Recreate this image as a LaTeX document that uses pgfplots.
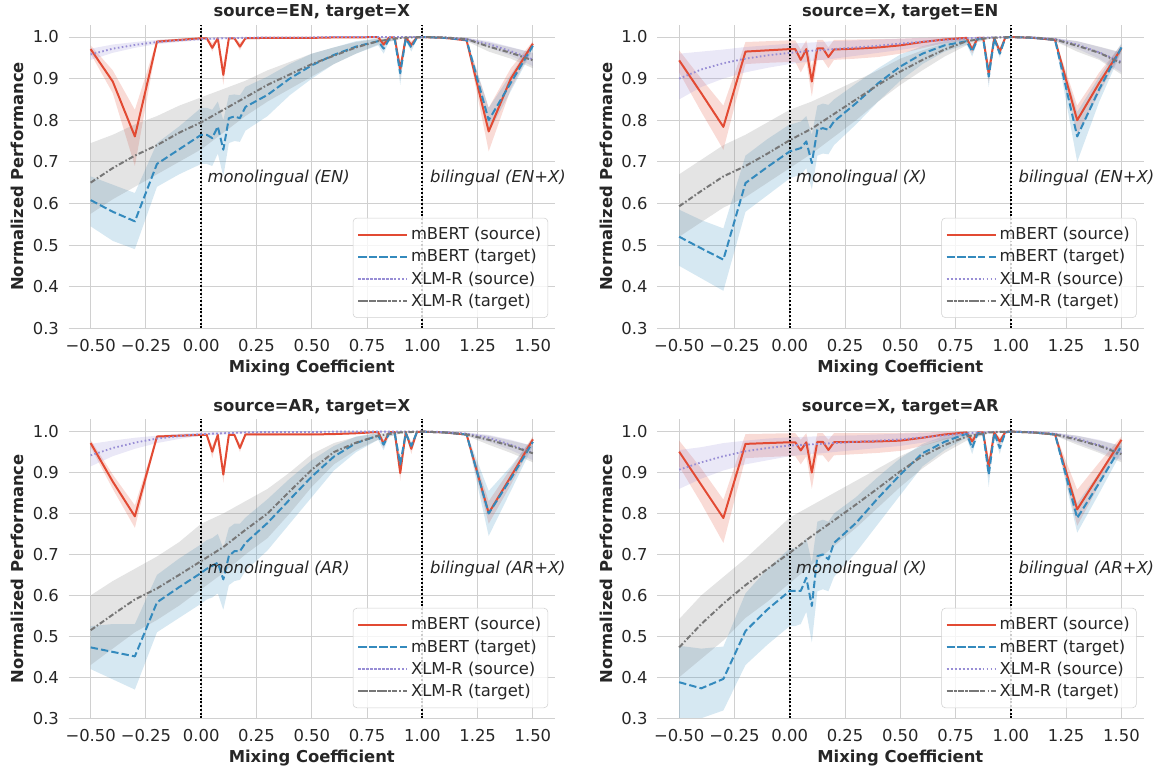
\documentclass[border=0pt]{standalone}
\usepackage{pgfplots}
\pgfplotsset{compat=1.18}
\usepackage{pgfplotstable}
\usepgfplotslibrary{fillbetween}
\usepackage{fontspec}
\setmainfont{DejaVu Sans}
\definecolor{cR}{HTML}{E24A33}
\definecolor{cB}{HTML}{348ABD}
\definecolor{cP}{HTML}{988ED5}
\definecolor{cG}{HTML}{777777}
\definecolor{gridc}{HTML}{D0D0D0}
\definecolor{textc}{HTML}{262626}
\newcommand\fs{\fontsize{12.3}{14.5}\selectfont}

% ---------------- TL: source=EN, target=X
\pgfplotstableread{
x y lo hi
-0.5 0.971 0.960 0.980
-0.4 0.893 0.865 0.920
-0.3 0.761 0.690 0.825
-0.2 0.989 0.985 0.993
-0.1 0.993 0.990 0.996
0 0.997 0.995 0.999
0.025 0.997 0.995 0.999
0.05 0.974 0.965 0.985
0.075 0.997 0.995 0.999
0.1 0.909 0.885 0.935
0.125 0.997 0.995 0.999
0.15 0.997 0.995 0.999
0.175 0.977 0.968 0.986
0.2 0.997 0.995 0.999
0.3 0.998 0.996 0.999
0.4 0.998 0.996 0.999
0.5 0.998 0.997 0.999
0.6 0.999 0.998 1.0
0.7 0.999 0.998 1.0
0.8 1.0 0.999 1.0
0.825 0.982 0.975 0.99
0.85 0.999 0.998 1.0
0.875 0.999 0.998 1.0
0.9 0.922 0.90 0.94
0.925 0.999 0.998 1.0
0.95 0.981 0.973 0.99
0.975 0.999 0.998 1.0
1.0 1.0 1.0 1.0
1.1 0.998 0.997 0.999
1.2 0.992 0.99 0.995
1.3 0.773 0.725 0.83
1.4 0.90 0.875 0.925
1.5 0.984 0.975 0.99
}\tlR
\pgfplotstableread{
x y lo hi
-0.5 0.608 0.545 0.665
-0.4 0.58 0.51 0.645
-0.3 0.557 0.49 0.625
-0.2 0.695 0.64 0.745
-0.1 0.73 0.67 0.785
0 0.765 0.695 0.83
0.025 0.765 0.695 0.83
0.05 0.757 0.69 0.825
0.075 0.785 0.72 0.845
0.1 0.729 0.665 0.80
0.125 0.805 0.745 0.86
0.15 0.809 0.75 0.862
0.175 0.805 0.748 0.86
0.2 0.832 0.775 0.88
0.3 0.861 0.81 0.905
0.4 0.90 0.86 0.935
0.5 0.932 0.90 0.96
0.6 0.957 0.935 0.975
0.7 0.977 0.96 0.99
0.8 0.99 0.98 0.997
0.825 0.972 0.96 0.983
0.85 0.995 0.99 0.999
0.875 0.995 0.99 0.999
0.9 0.913 0.885 0.935
0.925 0.996 0.99 0.999
0.95 0.975 0.965 0.985
0.975 0.998 0.995 1.0
1.0 1.0 1.0 1.0
1.1 0.998 0.997 0.999
1.2 0.993 0.99 0.996
1.3 0.80 0.77 0.83
1.4 0.89 0.87 0.91
1.5 0.979 0.97 0.988
}\tlB
\pgfplotstableread{
x y lo hi
-0.5 0.958 0.945 0.972
-0.4 0.972 0.962 0.982
-0.3 0.981 0.974 0.988
-0.2 0.988 0.983 0.993
-0.1 0.992 0.988 0.996
0 0.995 0.992 0.998
0.1 0.997 0.995 0.999
0.2 0.998 0.996 0.999
0.3 0.999 0.997 1.0
0.4 0.999 0.998 1.0
0.5 0.999 0.998 1.0
0.6 1.0 0.999 1.0
0.7 1.0 0.999 1.0
0.8 1.0 0.999 1.0
0.9 1.0 0.999 1.0
1.0 1.0 1.0 1.0
1.1 0.999 0.998 1.0
1.2 0.995 0.99 0.998
1.3 0.983 0.975 0.99
1.4 0.966 0.955 0.976
1.5 0.946 0.93 0.962
}\tlP
\pgfplotstableread{
x y lo hi
-0.5 0.65 0.575 0.745
-0.4 0.685 0.61 0.765
-0.3 0.715 0.64 0.79
-0.2 0.74 0.67 0.81
-0.1 0.77 0.70 0.835
0 0.795 0.73 0.855
0.1 0.825 0.77 0.875
0.2 0.855 0.81 0.895
0.3 0.885 0.845 0.92
0.4 0.91 0.875 0.94
0.5 0.935 0.905 0.96
0.6 0.955 0.935 0.975
0.7 0.975 0.96 0.988
0.8 0.99 0.982 0.996
0.9 0.998 0.995 1.0
1.0 1.0 1.0 1.0
1.1 0.999 0.998 1.0
1.2 0.995 0.99 0.998
1.3 0.977 0.965 0.987
1.4 0.962 0.948 0.975
1.5 0.944 0.925 0.962
}\tlG

% ---------------- TR: source=X, target=EN
\pgfplotstableread{
x y lo hi
-0.5 0.944 0.915 0.968
-0.4 0.865 0.82 0.90
-0.3 0.784 0.729 0.835
-0.2 0.965 0.935 0.988
-0.1 0.968 0.938 0.99
0 0.971 0.94 0.992
0.025 0.971 0.94 0.992
0.05 0.945 0.915 0.97
0.075 0.971 0.94 0.992
0.1 0.893 0.857 0.93
0.125 0.973 0.945 0.993
0.15 0.973 0.945 0.993
0.175 0.952 0.925 0.975
0.2 0.97 0.945 0.993
0.3 0.972 0.948 0.994
0.4 0.975 0.952 0.995
0.5 0.98 0.96 0.996
0.6 0.988 0.973 0.998
0.7 0.994 0.985 0.999
0.8 0.998 0.994 1.0
0.825 0.97 0.96 0.98
0.85 0.998 0.995 1.0
0.875 0.998 0.995 1.0
0.9 0.912 0.89 0.935
0.925 0.998 0.995 1.0
0.95 0.965 0.955 0.975
0.975 0.999 0.997 1.0
1.0 1.0 1.0 1.0
1.1 0.998 0.997 0.999
1.2 0.993 0.99 0.996
1.3 0.80 0.765 0.835
1.4 0.89 0.865 0.915
1.5 0.973 0.965 0.982
}\trR
\pgfplotstableread{
x y lo hi
-0.5 0.52 0.45 0.585
-0.4 0.492 0.42 0.56
-0.3 0.465 0.39 0.54
-0.2 0.649 0.58 0.715
-0.1 0.688 0.62 0.755
0 0.725 0.66 0.79
0.025 0.729 0.665 0.793
0.05 0.733 0.668 0.797
0.075 0.749 0.685 0.81
0.1 0.697 0.633 0.765
0.125 0.777 0.715 0.835
0.15 0.781 0.72 0.84
0.175 0.777 0.718 0.837
0.2 0.797 0.74 0.85
0.3 0.841 0.79 0.888
0.4 0.889 0.845 0.925
0.5 0.929 0.895 0.958
0.6 0.96 0.935 0.978
0.7 0.98 0.965 0.99
0.8 0.99 0.982 0.997
0.825 0.965 0.953 0.977
0.85 0.996 0.99 0.999
0.875 0.996 0.99 0.999
0.9 0.905 0.88 0.93
0.925 0.996 0.99 0.999
0.95 0.96 0.95 0.972
0.975 0.998 0.995 1.0
1.0 1.0 1.0 1.0
1.1 0.998 0.997 0.999
1.2 0.993 0.99 0.996
1.3 0.761 0.70 0.82
1.4 0.875 0.845 0.905
1.5 0.975 0.965 0.985
}\trB
\pgfplotstableread{
x y lo hi
-0.5 0.90 0.85 0.96
-0.4 0.922 0.88 0.965
-0.3 0.937 0.90 0.97
-0.2 0.948 0.915 0.976
-0.1 0.956 0.926 0.98
0 0.962 0.935 0.984
0.1 0.967 0.942 0.987
0.2 0.971 0.948 0.99
0.3 0.975 0.955 0.992
0.4 0.979 0.962 0.994
0.5 0.984 0.969 0.996
0.6 0.989 0.977 0.998
0.7 0.993 0.985 0.999
0.8 0.997 0.992 1.0
0.9 0.999 0.997 1.0
1.0 1.0 1.0 1.0
1.1 0.999 0.998 1.0
1.2 0.995 0.99 0.998
1.3 0.982 0.972 0.99
1.4 0.963 0.948 0.976
1.5 0.94 0.915 0.962
}\trP
\pgfplotstableread{
x y lo hi
-0.5 0.593 0.52 0.67
-0.4 0.63 0.555 0.705
-0.3 0.665 0.59 0.74
-0.2 0.69 0.615 0.765
-0.1 0.72 0.65 0.795
0 0.752 0.685 0.825
0.1 0.78 0.72 0.845
0.2 0.815 0.76 0.87
0.3 0.85 0.80 0.895
0.4 0.885 0.845 0.92
0.5 0.917 0.885 0.948
0.6 0.945 0.92 0.968
0.7 0.97 0.953 0.985
0.8 0.99 0.98 0.996
0.9 0.998 0.995 1.0
1.0 1.0 1.0 1.0
1.1 0.999 0.998 1.0
1.2 0.994 0.99 0.997
1.3 0.979 0.965 0.99
1.4 0.962 0.945 0.977
1.5 0.937 0.91 0.963
}\trG

% ---------------- BL: source=AR, target=X
\pgfplotstableread{
x y lo hi
-0.5 0.972 0.962 0.98
-0.4 0.878 0.86 0.895
-0.3 0.793 0.765 0.82
-0.2 0.988 0.985 0.991
-0.1 0.99 0.987 0.993
0 0.992 0.99 0.995
0.025 0.992 0.99 0.995
0.05 0.951 0.935 0.965
0.075 0.992 0.99 0.995
0.1 0.895 0.875 0.915
0.125 0.992 0.99 0.995
0.15 0.992 0.99 0.995
0.175 0.96 0.95 0.97
0.2 0.993 0.99 0.995
0.3 0.993 0.99 0.995
0.4 0.993 0.991 0.995
0.5 0.993 0.991 0.995
0.6 0.994 0.992 0.996
0.7 0.996 0.994 0.998
0.8 0.999 0.998 1.0
0.825 0.97 0.96 0.98
0.85 0.999 0.998 1.0
0.875 0.999 0.998 1.0
0.9 0.899 0.88 0.92
0.925 0.999 0.998 1.0
0.95 0.958 0.945 0.97
0.975 0.999 0.998 1.0
1.0 1.0 1.0 1.0
1.1 0.998 0.997 0.999
1.2 0.993 0.99 0.996
1.3 0.801 0.775 0.83
1.4 0.89 0.87 0.91
1.5 0.981 0.972 0.988
}\blR
\pgfplotstableread{
x y lo hi
-0.5 0.473 0.42 0.525
-0.4 0.462 0.395 0.53
-0.3 0.451 0.37 0.53
-0.2 0.583 0.51 0.65
-0.1 0.62 0.545 0.69
0 0.655 0.58 0.725
0.025 0.665 0.59 0.735
0.05 0.672 0.595 0.74
0.075 0.68 0.605 0.75
0.1 0.639 0.565 0.715
0.125 0.696 0.625 0.765
0.15 0.708 0.635 0.775
0.175 0.708 0.638 0.775
0.2 0.728 0.66 0.79
0.3 0.777 0.71 0.835
0.4 0.834 0.775 0.885
0.5 0.89 0.84 0.93
0.6 0.939 0.905 0.965
0.7 0.972 0.95 0.988
0.8 0.99 0.98 0.997
0.825 0.968 0.955 0.98
0.85 0.996 0.99 0.999
0.875 0.996 0.99 0.999
0.9 0.92 0.895 0.94
0.925 0.996 0.99 0.999
0.95 0.965 0.955 0.975
0.975 0.998 0.995 1.0
1.0 1.0 1.0 1.0
1.1 0.998 0.997 0.999
1.2 0.993 0.99 0.996
1.3 0.80 0.745 0.855
1.4 0.885 0.855 0.915
1.5 0.975 0.965 0.985
}\blB
\pgfplotstableread{
x y lo hi
-0.5 0.942 0.915 0.97
-0.4 0.96 0.94 0.978
-0.3 0.973 0.958 0.985
-0.2 0.983 0.972 0.99
-0.1 0.989 0.982 0.995
0 0.994 0.99 0.998
0.1 0.996 0.993 0.999
0.2 0.998 0.996 1.0
0.3 0.999 0.997 1.0
0.4 0.999 0.998 1.0
0.5 0.999 0.998 1.0
0.6 1.0 0.999 1.0
0.7 1.0 0.999 1.0
0.8 1.0 0.999 1.0
0.9 1.0 0.999 1.0
1.0 1.0 1.0 1.0
1.1 0.999 0.998 1.0
1.2 0.995 0.99 0.998
1.3 0.985 0.975 0.992
1.4 0.968 0.955 0.98
1.5 0.948 0.93 0.965
}\blP
\pgfplotstableread{
x y lo hi
-0.5 0.515 0.43 0.60
-0.4 0.553 0.47 0.635
-0.3 0.59 0.51 0.665
-0.2 0.617 0.54 0.695
-0.1 0.65 0.575 0.73
0 0.684 0.615 0.775
0.1 0.718 0.655 0.80
0.2 0.76 0.70 0.83
0.3 0.80 0.74 0.86
0.4 0.854 0.80 0.90
0.5 0.907 0.865 0.945
0.6 0.95 0.92 0.972
0.7 0.973 0.955 0.987
0.8 0.99 0.98 0.996
0.9 0.998 0.995 1.0
1.0 1.0 1.0 1.0
1.1 0.998 0.997 0.999
1.2 0.993 0.99 0.996
1.3 0.98 0.968 0.99
1.4 0.965 0.948 0.978
1.5 0.947 0.925 0.965
}\blG

% ---------------- BR: source=X, target=AR
\pgfplotstableread{
x y lo hi
-0.5 0.951 0.915 0.978
-0.4 0.87 0.825 0.91
-0.3 0.789 0.728 0.834
-0.2 0.97 0.935 0.994
-0.1 0.972 0.938 0.995
0 0.974 0.94 0.996
0.025 0.974 0.94 0.996
0.05 0.954 0.92 0.98
0.075 0.974 0.94 0.996
0.1 0.90 0.86 0.935
0.125 0.975 0.942 0.996
0.15 0.975 0.942 0.996
0.175 0.955 0.925 0.98
0.2 0.974 0.942 0.996
0.3 0.975 0.945 0.996
0.4 0.976 0.948 0.997
0.5 0.978 0.953 0.997
0.6 0.985 0.965 0.998
0.7 0.993 0.98 0.999
0.8 0.998 0.993 1.0
0.825 0.976 0.965 0.986
0.85 0.998 0.995 1.0
0.875 0.998 0.995 1.0
0.9 0.913 0.89 0.935
0.925 0.998 0.995 1.0
0.95 0.976 0.965 0.986
0.975 0.999 0.997 1.0
1.0 1.0 1.0 1.0
1.1 0.998 0.997 0.999
1.2 0.993 0.99 0.996
1.3 0.81 0.77 0.858
1.4 0.895 0.87 0.925
1.5 0.98 0.97 0.988
}\brR
\pgfplotstableread{
x y lo hi
-0.5 0.388 0.30 0.477
-0.4 0.373 0.30 0.47
-0.3 0.396 0.319 0.475
-0.2 0.513 0.43 0.605
-0.1 0.566 0.48 0.665
0 0.611 0.525 0.715
0.025 0.611 0.525 0.715
0.05 0.611 0.53 0.72
0.075 0.643 0.56 0.74
0.1 0.574 0.485 0.68
0.125 0.696 0.61 0.78
0.15 0.70 0.615 0.785
0.175 0.688 0.61 0.78
0.2 0.728 0.645 0.80
0.3 0.777 0.705 0.84
0.4 0.838 0.775 0.89
0.5 0.895 0.845 0.935
0.6 0.947 0.915 0.97
0.7 0.975 0.955 0.99
0.8 0.995 0.985 0.999
0.825 0.96 0.945 0.975
0.85 0.996 0.99 0.999
0.875 0.996 0.99 0.999
0.9 0.895 0.865 0.925
0.925 0.996 0.99 0.999
0.95 0.96 0.945 0.975
0.975 0.998 0.995 1.0
1.0 1.0 1.0 1.0
1.1 0.998 0.997 0.999
1.2 0.993 0.99 0.996
1.3 0.789 0.753 0.825
1.4 0.875 0.85 0.90
1.5 0.965 0.95 0.98
}\brB
\pgfplotstableread{
x y lo hi
-0.5 0.907 0.86 0.955
-0.4 0.925 0.885 0.962
-0.3 0.94 0.905 0.972
-0.2 0.952 0.92 0.978
-0.1 0.96 0.93 0.983
0 0.966 0.94 0.986
0.1 0.969 0.945 0.988
0.2 0.972 0.95 0.99
0.3 0.975 0.955 0.991
0.4 0.978 0.96 0.993
0.5 0.981 0.965 0.995
0.6 0.986 0.973 0.997
0.7 0.991 0.982 0.999
0.8 0.996 0.99 1.0
0.9 0.999 0.997 1.0
1.0 1.0 1.0 1.0
1.1 0.999 0.998 1.0
1.2 0.995 0.99 0.998
1.3 0.983 0.973 0.99
1.4 0.967 0.952 0.98
1.5 0.948 0.93 0.965
}\brP
\pgfplotstableread{
x y lo hi
-0.5 0.473 0.40 0.542
-0.4 0.53 0.445 0.60
-0.3 0.58 0.49 0.645
-0.2 0.625 0.545 0.69
-0.1 0.665 0.585 0.74
0 0.704 0.63 0.79
0.1 0.745 0.675 0.82
0.2 0.783 0.72 0.85
0.3 0.822 0.765 0.88
0.4 0.862 0.815 0.91
0.5 0.903 0.865 0.94
0.6 0.94 0.91 0.965
0.7 0.967 0.948 0.983
0.8 0.988 0.978 0.995
0.9 0.998 0.995 1.0
1.0 1.0 1.0 1.0
1.1 0.998 0.997 0.999
1.2 0.993 0.99 0.996
1.3 0.98 0.968 0.99
1.4 0.965 0.948 0.978
1.5 0.945 0.925 0.965
}\brG

\newcommand\band[3]{%
  \addplot[draw=none, forget plot, name path=#3lo] table[x=x,y=lo]{#1};
  \addplot[draw=none, forget plot, name path=#3hi] table[x=x,y=hi]{#1};
  \addplot[draw=none, fill=#2, fill opacity=0.2, forget plot] fill between[of=#3lo and #3hi];
}
\newcommand\panel[5]{%
  \band{#2}{cR}{#1r}
  \band{#3}{cB}{#1b}
  \band{#4}{cP}{#1p}
  \band{#5}{cG}{#1g}
  \addplot[black, line width=1.5pt, dash pattern=on 1.4pt off 1.4pt, forget plot] coordinates {(0,0.3) (0,1.03)};
  \addplot[black, line width=1.5pt, dash pattern=on 1.4pt off 1.4pt, forget plot] coordinates {(1,0.3) (1,1.03)};
  \addplot[cR, line width=1.5pt, line join=round] table[x=x,y=y]{#2};
  \addplot[cB, line width=1.5pt, line join=round, dash pattern=on 5.5pt off 2.4pt] table[x=x,y=y]{#3};
  \addplot[cP, line width=1.4pt, dash pattern=on 1.2pt off 1.8pt] table[x=x,y=y]{#4};
  \addplot[cG, line width=1.5pt, dash pattern=on 4pt off 1.6pt on 1.2pt off 1.6pt] table[x=x,y=y]{#5};
}
\newcommand\annot[3]{%
  \node[anchor=west, inner sep=0pt, font=\fs\itshape, text=textc] at (axis cs:0.028,#3) {monolingual (#1)};
  \node[anchor=west, inner sep=0pt, font=\fs\itshape, text=textc] at (axis cs:1.034,#3) {bilingual (#2)};
}

\pgfplotsset{
  myax/.style={
    scale only axis, width=364.9pt,
    xmin=-0.6, xmax=1.6, ymin=0.3, ymax=1.03,
    clip mode=individual,
    xtick={-0.5,-0.25,0,0.25,0.5,0.75,1,1.25,1.5},
    xticklabels={−0.50,−0.25,0.00,0.25,0.50,0.75,1.00,1.25,1.50},
    ytick={0.3,0.4,0.5,0.6,0.7,0.8,0.9,1.0},
    yticklabels={0.3,0.4,0.5,0.6,0.7,0.8,0.9,1.0},
    grid=major, major grid style={draw=gridc, line width=0.7pt},
    major tick length=0pt,
    axis line style={draw=none},
    tick label style={font=\fs, text=textc},
    xticklabel style={anchor=north, inner sep=0pt, yshift=-8pt},
    yticklabel style={anchor=east, inner sep=0pt, xshift=-7pt},
    xlabel={Mixing Coefficient}, ylabel={Normalized Performance},
    every axis x label/.style={at={(axis description cs:0.5,0)}, anchor=base, yshift=-33.3pt, font=\fs\bfseries, text=textc},
    every axis y label/.style={at={(axis description cs:-0.0918,0.5)}, anchor=base, rotate=90, font=\fs\bfseries, text=textc},
    every axis title shift/.style={yshift=0pt},
    title style={at={(axis description cs:0.5,1)}, anchor=base, inner sep=0pt, yshift=0pt, font=\fs\bfseries, text=textc},
    legend entries={mBERT (source), mBERT (target), XLM-R (source), XLM-R (target)},
    legend cell align=left,
    legend image code/.code={\draw[#1] (0pt,0pt) -- (26pt,0pt); \path (-1pt,0pt) -- (36pt,0pt);},
    legend style={at={(0.986,0.034)}, anchor=south east, draw=gridc, rounded corners=3pt,
      fill=white, fill opacity=0.8, text opacity=1, font=\fs, text=textc,
      inner xsep=3pt, inner ysep=5pt, row sep=1.8pt, nodes={inner sep=2pt}},
    after end axis/.code={\draw[gridc, line width=1pt] (axis description cs:0,0) -- (axis description cs:1,0);},
  }
}

\begin{document}
\begin{tikzpicture}
\path (-51.4pt,246.2pt) rectangle (820.9pt,-330.5pt);
\begin{axis}[myax, height=227.8pt, at={(0pt,0pt)}, anchor=south west, title={source=EN, target=X}]
\panel{tl}{\tlR}{\tlB}{\tlP}{\tlG}
\annot{EN}{EN+X}{0.662}
\end{axis}
\begin{axis}[myax, height=227.8pt, at={(441.4pt,0pt)}, anchor=south west, title={source=X, target=EN}]
\panel{tr}{\trR}{\trB}{\trP}{\trG}
\annot{X}{EN+X}{0.662}
\end{axis}
\begin{axis}[myax, height=224.2pt, at={(0pt,-292.5pt)}, anchor=south west, title={source=AR, target=X}]
\panel{bl}{\blR}{\blB}{\blP}{\blG}
\annot{AR}{AR+X}{0.664}
\end{axis}
\begin{axis}[myax, height=224.2pt, at={(441.4pt,-292.5pt)}, anchor=south west, title={source=X, target=AR}]
\panel{br}{\brR}{\brB}{\brP}{\brG}
\annot{X}{AR+X}{0.664}
\end{axis}
\end{tikzpicture}
\end{document}
